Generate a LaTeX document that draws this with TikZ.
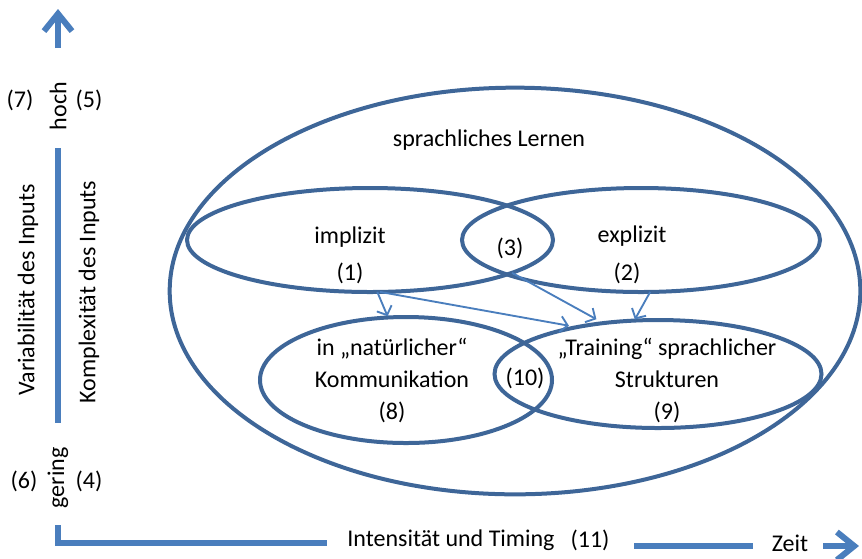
\documentclass[tikz,border=0pt]{standalone}
\usepackage{fontspec}
\setmainfont{Carlito}
\usetikzlibrary{shapes.geometric,arrows.meta}
\definecolor{ringblue}{RGB}{62,102,152}
\definecolor{axisblue}{RGB}{74,126,189}
\tikzset{
  ring/.style={ellipse, draw=ringblue, line width=3pt, inner sep=0pt, outer sep=0pt},
  lbl/.style={inner sep=0pt, font=\fontsize{18}{22}\selectfont},
  axisline/.style={draw=axisblue, line width=4.5pt},
  bigtip/.style={axisline, -{Straight Barb[length=13pt,width=21pt]}},
  flow/.style={draw=axisblue, line width=1.4pt, -{Straight Barb[length=5.5pt,width=12pt]}, shorten >=1pt}
}
\begin{document}
\begin{tikzpicture}[x=0.75pt,y=-0.75pt]
\useasboundingbox (0,0) rectangle (862,558);

% sets of learning
\node[ring, minimum width=518pt, minimum height=305pt] (lernen) at (515,291) {};
\node[ring, minimum width=274.5pt, minimum height=78pt] (impl) at (370,240) {};
\node[ring, minimum width=268.5pt, minimum height=78pt] (expl) at (641,240) {};
\node[ring, minimum width=219pt, minimum height=94.5pt] (natur) at (406,380) {};
\node[ring, minimum width=245.25pt, minimum height=81pt] (train) at (658,374) {};

% labels inside the sets
\node[lbl] (tLernen) at (489,140) {sprachliches Lernen};
\node[lbl] (tImpl) at (350,237) {implizit};
\node[lbl] (n1) at (350,273) {(1)};
\node[lbl] (n3) at (510,248) {(3)};
\node[lbl] (tExpl) at (632,236) {explizit};
\node[lbl] (n2) at (627,273) {(2)};
\node[lbl, align=center] (tNatur) at (392,380) {in „natürlicher“\\[2pt]Kommunikation\\[2pt](8)};
\node[lbl] (n10) at (525,378) {(10)};
\node[lbl, align=center] (tTrain) at (667,380) {„Training“ sprachlicher\\[2pt]Strukturen\\[2pt](9)};

% transfer arrows
\draw[flow] (impl.-82) -- (natur.106);
\draw[flow, shorten >=6pt] (impl.-79) -- (train.150);
\draw[flow, shorten >=6pt] (impl.-13) -- (train.137);
\draw[flow] (expl.-80) -- (train.114);

% vertical axis
\coordinate (upFoot) at (58,48);
\coordinate (upTip) at (58,9);
\draw[bigtip] (upFoot) -- (upTip);
\coordinate (vTop) at (58,148);
\coordinate (vBot) at (58,423);
\draw[axisline] (vTop) -- (vBot);
\node[lbl, rotate=90] (hoch) at (58,106) {hoch};
\node[lbl] (n7) at (20,100) {(7)};
\node[lbl] (n5) at (89,100) {(5)};
\node[lbl, rotate=90] (gering) at (58,478) {gering};
\node[lbl] (n6) at (24,481) {(6)};
\node[lbl] (n4) at (89,481) {(4)};
\node[lbl, rotate=90] (tVar) at (28,290) {Variabilität des Inputs};
\node[lbl, rotate=90] (tKomp) at (89,292) {Komplexität des Inputs};

% horizontal axis
\coordinate (cTop) at (58,525);
\coordinate (cCorner) at (58,543);
\coordinate (cEnd) at (327,543);
\draw[axisline, line join=miter] (cTop) -- (cCorner) -- (cEnd);
\node[lbl] (tInt) at (451,540) {Intensität und Timing};
\node[lbl] (n11) at (590,540) {(11)};
\coordinate (hA) at (634,546);
\coordinate (hB) at (753,546);
\draw[axisline] (hA) -- (hB);
\node[lbl] (tZeit) at (790,543) {Zeit};
\coordinate (zA) at (823,546);
\coordinate (zB) at (859,546);
\draw[bigtip] (zA) -- (zB);
\end{tikzpicture}
\end{document}
